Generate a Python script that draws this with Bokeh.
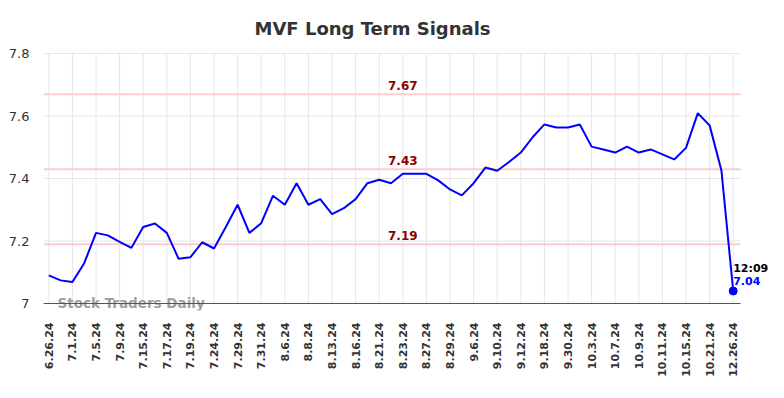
from bokeh.plotting import figure
from bokeh.models import ColumnDataSource, FixedTicker
from bokeh.core.properties import value
from bokeh.embed import file_html
from bokeh.resources import INLINE
import math

# ---- data ----
values = [7.09, 7.074, 7.069, 7.129, 7.226, 7.218, 7.197, 7.178, 7.245, 7.256,
          7.226, 7.143, 7.148, 7.196, 7.176, 7.245, 7.316, 7.226, 7.257, 7.345,
          7.316, 7.385, 7.316, 7.334, 7.286, 7.305, 7.334, 7.385, 7.396, 7.385,
          7.415, 7.415, 7.415, 7.394, 7.365, 7.346, 7.385, 7.435, 7.425, 7.453,
          7.483, 7.532, 7.573, 7.563, 7.563, 7.573, 7.502, 7.493, 7.483, 7.502,
          7.483, 7.493, 7.477, 7.461, 7.498, 7.609, 7.570, 7.426, 7.04]
tick_labels = ["6.26.24", "7.1.24", "7.5.24", "7.9.24", "7.15.24", "7.17.24",
               "7.19.24", "7.24.24", "7.29.24", "7.31.24", "8.6.24", "8.8.24",
               "8.13.24", "8.16.24", "8.21.24", "8.23.24", "8.27.24", "8.29.24",
               "9.6.24", "9.10.24", "9.12.24", "9.18.24", "9.30.24", "10.3.24",
               "10.7.24", "10.9.24", "10.11.24", "10.15.24", "10.21.24", "12.26.24"]
levels = [7.67, 7.43, 7.19]
level_labels = ["7.67", "7.43", "7.19"]
last_time = "12:09"
last_value_label = "7.04"
y_ticks = [7, 7.2, 7.4, 7.6, 7.8]
y_tick_labels = ["7", "7.2", "7.4", "7.6", "7.8"]

n = len(values)
idx = list(range(n))
tick_pos = idx[::2]
last = n - 1

FONT = "DejaVu Sans"
x_lo = -0.45          # left edge of the plotting area (data units)
x_hi = last + 0.62    # right end of the grid / signal lines
y_lo, y_hi = y_ticks[0], y_ticks[-1]

p = figure(width=784, height=398, output_backend="svg", toolbar_location=None,
           x_range=(x_lo, x_lo + 737 / 11.8),
           y_range=(y_lo - 7 / 312.5, y_hi + 1 / 312.5),
           min_border_left=43, min_border_right=4, min_border_top=52,
           min_border_bottom=88)

p.title.text = "MVF Long Term Signals"
p.title.align = "left"
p.title.offset = 211
p.title.text_font = FONT
p.title.text_font_size = "18px"
p.title.text_font_style = "bold"
p.title.text_color = "#333333"
p.title.standoff = 28

p.outline_line_color = None
p.xgrid.visible = False
p.ygrid.visible = False

# x axis
p.xaxis.ticker = FixedTicker(ticks=tick_pos)
p.xaxis.major_label_overrides = {t: lab for t, lab in zip(tick_pos, tick_labels)}
p.xaxis.major_label_orientation = math.pi / 2
p.xaxis.major_label_text_font = FONT
p.xaxis.major_label_text_font_size = "11px"
p.xaxis.major_label_text_font_style = "bold"
p.xaxis.major_label_text_color = "#333333"
p.xaxis.major_label_standoff = 12
p.xaxis.major_tick_line_color = None
p.xaxis.major_tick_out = 0
p.xaxis.major_tick_in = 0
p.xaxis.minor_tick_line_color = None
p.xaxis.axis_line_color = None

# y axis
p.yaxis.ticker = FixedTicker(ticks=y_ticks)
p.yaxis.major_label_overrides = {t: lab for t, lab in zip(y_ticks, y_tick_labels)}
p.yaxis.major_label_text_font = FONT
p.yaxis.major_label_text_font_size = "13px"
p.yaxis.major_label_text_color = "#333333"
p.yaxis.major_label_standoff = 14
p.yaxis.major_tick_line_color = None
p.yaxis.major_tick_out = 0
p.yaxis.minor_tick_line_color = None
p.yaxis.axis_line_color = None

# grid lines (drawn as segments so they stop at the plot area's edge)
p.segment(x0=[x_lo] * len(y_ticks), x1=[x_hi] * len(y_ticks), y0=y_ticks, y1=y_ticks,
          line_color="#e6e6e6", line_width=1)
p.segment(x0=tick_pos, x1=tick_pos, y0=[y_lo] * len(tick_pos), y1=[y_hi] * len(tick_pos),
          line_color="#e6e6e6", line_width=1)

# signal levels
p.segment(x0=[x_lo] * len(levels), x1=[x_hi] * len(levels), y0=levels, y1=levels,
          line_color="#ffcccc", line_width=2)
p.text(x=[30] * len(levels), y=levels, text=level_labels, text_align="center",
       text_baseline="alphabetic", y_offset=-9,
       text_font=value(FONT), text_font_size="12px", text_font_style="bold",
       text_color="#8b0000")

# watermark
p.text(x=[x_lo], y=[y_lo], text=["Stock Traders Daily"], x_offset=14, y_offset=-1,
       text_align="left", text_baseline="middle",
       text_font=value(FONT), text_font_size="13.5px", text_font_style="bold",
       text_color="#a0a0a0")

# bottom axis line
p.segment(x0=[x_lo], x1=[x_hi], y0=[y_lo], y1=[y_lo], line_color="#555555", line_width=1)

# price line
src = ColumnDataSource(dict(x=idx, y=values))
p.line("x", "y", source=src, line_color="#0000ff", line_width=2)

p.scatter([last], [values[last]], size=8, color="#0000ff")
p.text(x=[last], y=[values[last]], text=[last_time], x_offset=0, y_offset=-23,
       text_align="left", text_baseline="alphabetic",
       text_font=value(FONT), text_font_size="11px", text_font_style="bold",
       text_color="#000000")
p.text(x=[last], y=[values[last]], text=[last_value_label], x_offset=0, y_offset=-10,
       text_align="left", text_baseline="alphabetic",
       text_font=value(FONT), text_font_size="11px", text_font_style="bold",
       text_color="#0000ff")

open("out.html", "w").write(file_html(p, INLINE))
